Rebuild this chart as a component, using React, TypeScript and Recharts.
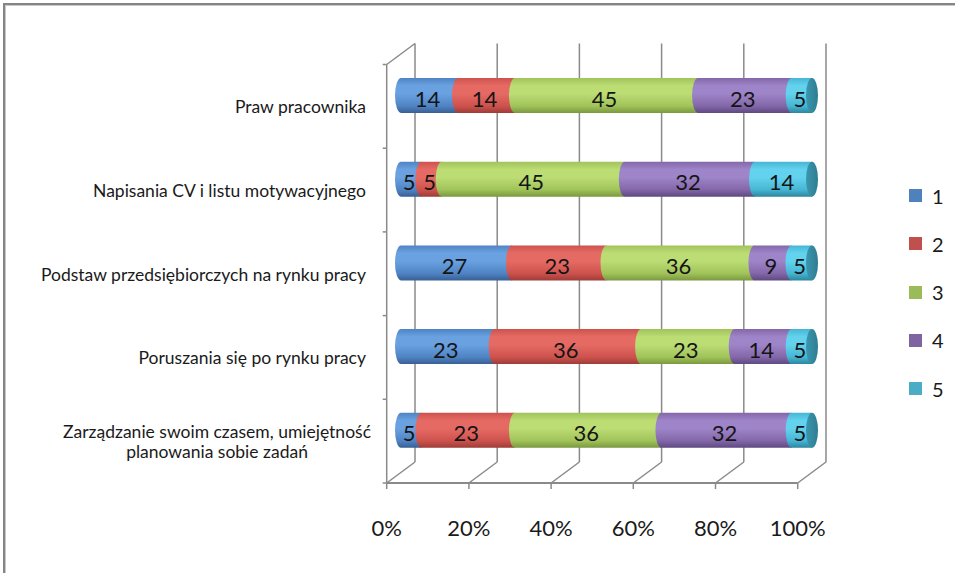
import React from 'react';
import { BarChart, Bar, XAxis, YAxis, CartesianGrid, Legend, LabelList } from 'recharts';

const categories = [
  'Praw pracownika',
  'Napisania CV i listu motywacyjnego',
  'Podstaw przedsiębiorczych na rynku pracy',
  'Poruszania się po rynku pracy',
  'Zarządzanie swoim czasem, umiejętność planowania sobie zadań',
];
const series1 = [14, 5, 27, 23, 5];
const series2 = [14, 5, 23, 36, 23];
const series3 = [45, 45, 36, 23, 36];
const series4 = [23, 32, 9, 14, 32];
const series5 = [5, 14, 5, 5, 5];
const seriesNames = ['1', '2', '3', '4', '5'];
const xTicks = [0, 0.2, 0.4, 0.6, 0.8, 1];
const xTickLabels = ['0%', '20%', '40%', '60%', '80%', '100%'];

const allSeries = [series1, series2, series3, series4, series5];
const data = categories.map((name, i) => {
  const row: any = { name };
  allSeries.forEach((s, k) => (row['s' + (k + 1)] = s[i]));
  return row;
});

// cylinder shading per series
const palette = [
  { legend: '#4F81BD', light: '#69a1e1', base: '#4f84c4', dark: '#395f94' },
  { legend: '#C0504D', light: '#e66a64', base: '#cd524d', dark: '#9e3c38' },
  { legend: '#9BBB59', light: '#bcdc74', base: '#a0c35a', dark: '#7b9840' },
  { legend: '#8064A2', light: '#9e84c8', base: '#8367a9', dark: '#5e4981' },
  { legend: '#4BACC6', light: '#62d2ee', base: '#46b6d5', dark: '#2c869e' },
];
const CAP = '#2d7d92';

const W = 955;
const H = 573;
const Y_AXIS_W = 390;
const X_AXIS_H = 60;
const MARGIN = { top: 54, right: 143, left: 11, bottom: 40.5 };
const PLOT_W = W - MARGIN.left - Y_AXIS_W - MARGIN.right;
const PLOT_H = H - MARGIN.top - MARGIN.bottom - X_AXIS_H;
// 3d depth offsets from the bar plane
const FRONT_DX = -14.3;
const FRONT_DY = 10.5;
const BACK_DX = 14;
const BACK_DY = -10.5;
const WALL = '#8a8a8a';
const FONT = 'Lato, "Open Sans", sans-serif';
const CAT_SIZE = 17.5;

let ctx: CanvasRenderingContext2D | null = null;
function textWidth(s: string, font: string) {
  if (!ctx) ctx = document.createElement('canvas').getContext('2d');
  if (!ctx) return s.length * 8;
  ctx.font = font;
  return ctx.measureText(s).width;
}

function wrap(s: string, font: string, maxW: number) {
  const words = s.split(' ');
  const lines: string[] = [];
  let cur = '';
  words.forEach((w) => {
    const t = cur ? cur + ' ' + w : w;
    if (cur && textWidth(t, font) > maxW) {
      lines.push(cur);
      cur = w;
    } else cur = t;
  });
  if (cur) lines.push(cur);
  return lines;
}

const makeShape = (k: number) => (props: any) => {
  const { x, y, width, height } = props;
  if (!width || width <= 0 || !height) return <g />;
  const ry = height / 2;
  const rx = 6;
  const d = `M ${x} ${y} L ${x + width} ${y} L ${x + width} ${y + height} L ${x} ${y + height} A ${rx} ${ry} 0 0 1 ${x} ${y} Z`;
  return (
    <g>
      <path d={d} fill={`url(#cyl${k})`} />
      {k === allSeries.length - 1 && (
        <ellipse cx={x + width} cy={y + ry} rx={rx} ry={ry} fill="url(#cap)" />
      )}
    </g>
  );
};

const renderValue = (props: any) => {
  const { x, y, width, height, value } = props;
  if (value == null) return null;
  return (
    <text
      x={Number(x) + Number(width) / 2 - 2}
      y={Number(y) + Number(height) / 2 + 11}
      textAnchor="middle"
      fontSize={22}
      fontFamily={FONT}
      fill="#151515"
    >
      {value}
    </text>
  );
};

const CategoryTick = (props: any) => {
  const { x, y, payload, index } = props;
  const band = PLOT_H / categories.length;
  const fx = x + FRONT_DX;
  const top = y + FRONT_DY - band / 2;
  const font = `${CAT_SIZE}px ${FONT}`;
  const lines = wrap(String(payload.value), font, 345);
  const lh = 20;
  const cy = y + FRONT_DY + 1;
  const first = cy - ((lines.length - 1) * lh) / 2 + 6;
  const right = x - 33;
  let tx = right - 2;
  let anchor: 'end' | 'middle' = 'end';
  if (lines.length > 1) {
    const maxW = Math.max(...lines.map((l) => textWidth(l, font)));
    tx = right + 3 - maxW / 2;
    anchor = 'middle';
  }
  return (
    <g>
      <line x1={fx} y1={top} x2={fx} y2={top + band} stroke={WALL} strokeWidth={1.5} />
      <line x1={fx - 4} y1={top} x2={fx} y2={top} stroke={WALL} strokeWidth={1.5} />
      {index === 0 && (
        <line x1={fx} y1={top} x2={x + BACK_DX} y2={y - band / 2 + BACK_DY} stroke={WALL} strokeWidth={1.5} />
      )}
      <text textAnchor={anchor} fontSize={CAT_SIZE} fontFamily={FONT} fill="#1a1a1a">
        {lines.map((l, i) => (
          <tspan key={i} x={tx} y={first + i * lh}>
            {l}
          </tspan>
        ))}
      </text>
    </g>
  );
};

const PercentTick = (props: any) => {
  const { x, y, index } = props;
  const fx = x + FRONT_DX;
  const fy = y + FRONT_DY;
  return (
    <g>
      {index === 0 && (
        <>
          <line x1={fx} y1={fy} x2={fx + PLOT_W} y2={fy} stroke={WALL} strokeWidth={2} />
          <line x1={fx - 4} y1={fy} x2={fx} y2={fy} stroke={WALL} strokeWidth={1.5} />
        </>
      )}
      <line x1={fx} y1={fy} x2={fx} y2={fy + 6} stroke={WALL} strokeWidth={1.5} />
      <line x1={fx} y1={fy} x2={x + BACK_DX} y2={y + BACK_DY} stroke={WALL} strokeWidth={1.5} />
      <text x={fx} y={fy + 53} textAnchor="middle" fontSize={22} fontFamily={FONT} fill="#1a1a1a">
        {xTickLabels[index]}
      </text>
    </g>
  );
};

const renderLegend = (props: any) => {
  const payload = props.payload || [];
  return (
    <div style={{ position: 'relative', width: 0, height: 0 }}>
      {payload.map((p: any, i: number) => {
        const k = Number(String(p.dataKey).slice(1)) - 1;
        return (
          <div
            key={i}
            style={{
              position: 'absolute',
              left: 0,
              top: i * 48.3,
              height: 14,
              display: 'flex',
              alignItems: 'center',
              whiteSpace: 'nowrap',
              fontFamily: FONT,
              fontSize: 20,
              color: '#1a1a1a',
            }}
          >
            <span style={{ width: 13, height: 13, background: palette[k].legend, display: 'inline-block' }} />
            <span style={{ marginLeft: 10 }}>{p.value}</span>
          </div>
        );
      })}
    </div>
  );
};

export default function App() {
  return (
    <div style={{ position: 'absolute', left: 0, top: 0, width: W, height: H, background: '#fff', overflow: 'hidden' }}>
      <div
        style={{
          position: 'absolute',
          left: 3,
          top: 3,
          width: W,
          height: H,
          borderLeft: '2px solid #858585',
          borderTop: '2px solid #858585',
          boxShadow: 'inset 1px 1px 0 #c8c8c8',
        }}
      />
      <div style={{ position: 'absolute', left: 0, top: 0 }}>
        <BarChart
          width={W}
          height={H}
          data={data}
          layout="vertical"
          stackOffset="expand"
          barSize={35}
          margin={MARGIN}
        >
          <defs>
            {palette.map((c, k) => (
              <linearGradient key={k} id={`cyl${k}`} x1="0" y1="0" x2="0" y2="1">
                <stop offset="0%" stopColor={c.base} />
                <stop offset="22%" stopColor={c.light} />
                <stop offset="45%" stopColor={c.light} />
                <stop offset="80%" stopColor={c.base} />
                <stop offset="100%" stopColor={c.dark} />
              </linearGradient>
            ))}
            <linearGradient id="cap" x1="0" y1="0" x2="1" y2="0">
              <stop offset="0%" stopColor="#3b97ad" />
              <stop offset="100%" stopColor={CAP} />
            </linearGradient>
          </defs>
          <CartesianGrid
            horizontal={false}
            y={MARGIN.top + BACK_DY}
            height={PLOT_H}
            stroke={WALL}
            strokeWidth={1.5}
            verticalCoordinatesGenerator={(args: any) => {
              const o = args && args.offset;
              const left = o ? o.left : MARGIN.left + Y_AXIS_W;
              const w = o ? o.width : PLOT_W;
              return xTicks.map((t) => left + t * w + BACK_DX);
            }}
          />
          <XAxis
            type="number"
            domain={[0, 1]}
            ticks={xTicks}
            height={X_AXIS_H}
            axisLine={false}
            tickLine={false}
            tickSize={0}
            tickMargin={0}
            interval={0}
            tick={<PercentTick />}
          />
          <YAxis
            type="category"
            dataKey="name"
            width={Y_AXIS_W}
            axisLine={false}
            tickLine={false}
            tickSize={0}
            tickMargin={0}
            interval={0}
            tick={<CategoryTick />}
          />
          <Legend
            layout="vertical"
            align="right"
            verticalAlign="middle"
            content={renderLegend}
            wrapperStyle={{ left: 909, top: 188.5, width: 0, height: 0 }}
          />
          {seriesNames.map((n, k) => (
            <Bar
              key={n}
              dataKey={'s' + (k + 1)}
              name={n}
              stackId="a"
              fill={palette[k].legend}
              shape={makeShape(k)}
              isAnimationActive={false}
            >
              <LabelList dataKey={'s' + (k + 1)} content={renderValue} />
            </Bar>
          ))}
        </BarChart>
      </div>
    </div>
  );
}
